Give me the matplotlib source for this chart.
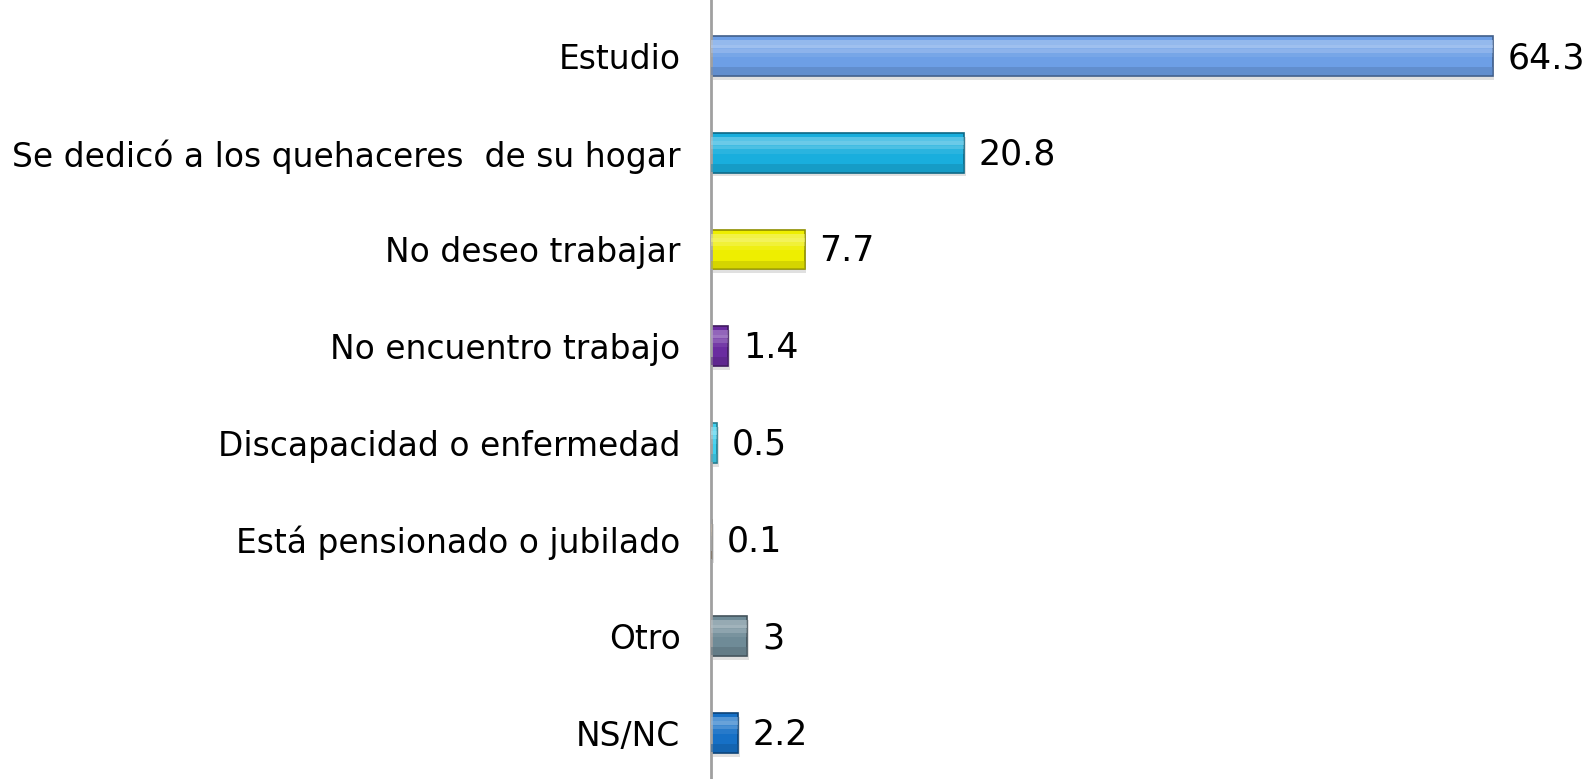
import matplotlib.pyplot as plt
import matplotlib.colors as mcolors
import numpy as np

# Datos
categorias = ["Estudio", "Se dedicó a los quehaceres  de su hogar", "No deseo trabajar",
              "No encuentro trabajo", "Discapacidad o enfermedad",
              "Está pensionado o jubilado", "Otro", "NS/NC"]
valores = [64.3, 20.8, 7.7, 1.4, 0.5, 0.1, 3, 2.2]
etiquetas = ["64.3", "20.8", "7.7", "1.4", "0.5", "0.1", "3", "2.2"]
colores = ["#6d9fe6", "#19aedd", "#eeee00", "#6a2ca0", "#3fd0ee", "#8b6f4f", "#6f8b97", "#1670c6"]

fig = plt.figure(figsize=(15.85, 7.79), dpi=100)
ax = fig.add_axes([0.4486, 0.0, 0.5514, 1.0])

y = np.arange(len(categorias))
alto = 0.41

def oscuro(c, f=0.6):
    r, g, b = mcolors.to_rgb(c)
    return (r * f, g * f, b * f)

def claro(c, f=0.5):
    r, g, b = mcolors.to_rgb(c)
    return (r + (1 - r) * f, g + (1 - g) * f, b + (1 - b) * f)

# sombra
ax.barh(y + 0.04, valores, height=alto, left=0.15, color="#000000", alpha=0.12, zorder=1)
# barras
ax.barh(y, valores, height=alto, color=colores,
        edgecolor=[oscuro(c) for c in colores], linewidth=1.2, zorder=2)
# brillo superior (degradado simple)
for k, (dy, h, a) in enumerate([(-0.30, 0.12, 0.55), (-0.19, 0.12, 0.35), (-0.08, 0.12, 0.15)]):
    ax.barh(y + alto * dy, valores, height=alto * h * 1.7, color=[claro(c) for c in colores],
            alpha=a, linewidth=0, zorder=3)
# parte inferior más oscura
ax.barh(y + alto * 0.38, valores, height=alto * 0.2, color=[oscuro(c, 0.8) for c in colores],
        alpha=0.5, linewidth=0, zorder=3)

for yi, v, t in zip(y, valores, etiquetas):
    ax.text(v + 1.2, yi + 0.02, t, va="center", ha="left", fontsize=25, color="black")

ax.set_yticks(y)
ax.set_yticklabels(categorias, fontsize=23.7)
ax.tick_params(axis="y", length=0, pad=22)
ax.set_ylim(7.476, -0.58)
ax.set_xlim(0, 71.9)
ax.set_xticks([])
for s in ["top", "right", "bottom"]:
    ax.spines[s].set_visible(False)
ax.spines["left"].set_color("#a0a0a0")
ax.spines["left"].set_linewidth(2)

fig.savefig("out.png", dpi=100)
